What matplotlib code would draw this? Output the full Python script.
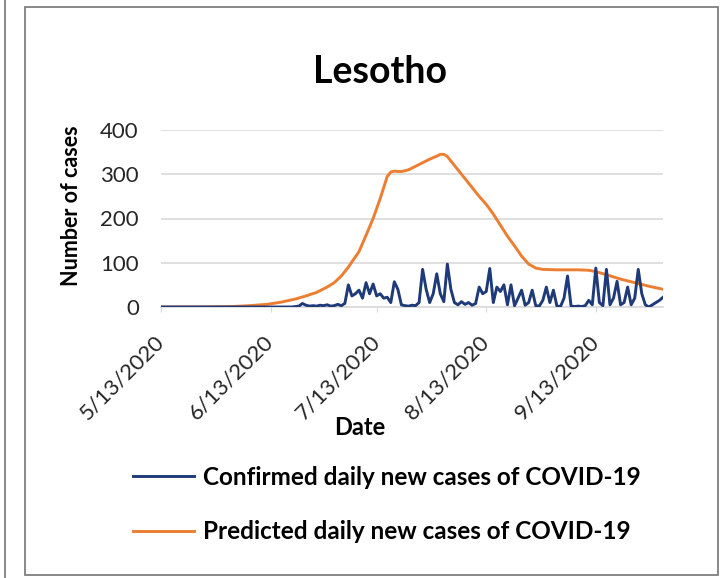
import datetime as dt
import matplotlib
matplotlib.use("Agg")
from matplotlib import pyplot as plt
import matplotlib.transforms as mtransforms
from matplotlib.patches import Rectangle
from matplotlib.lines import Line2D

plt.rcParams['font.family'] = ['Lato', 'DejaVu Sans']

start = dt.date(2020, 5, 13)

# confirmed daily new cases, one value per day from 5/13/2020
confirmed = [0]*36 + [0, 0, 1, 2,
    8, 4, 2, 3, 2, 4, 3, 5, 2, 3, 6, 3, 8,
    50, 25, 30, 38, 20, 55, 30, 52, 25, 30, 20, 22, 10, 57, 40,
    5, 3, 2, 4, 3, 10, 85, 40, 10, 30, 75, 30, 12, 97, 40, 10,
    5, 12, 6, 10, 4, 8, 45, 30, 35, 87, 10, 45, 35, 50, 5, 50,
    3, 20, 38, 4, 10, 38, 3, 2, 15, 45, 10, 38, 2, 1, 20, 70,
    2, 1, 2, 1, 3, 15, 5, 88, 10, 3, 85, 5, 20, 58, 5, 10,
    45, 5, 20, 85, 30, 5, 0, 5, 10, 15, 22]

# predicted daily new cases (day offset from 5/13/2020, value)
pred_day = [0, 10, 20, 25, 30, 34, 38, 41, 44, 47, 49, 51, 53, 54, 56, 58,
            60, 62, 63, 64, 65, 66, 68, 70, 72, 74, 76, 78, 79, 80, 81, 82,
            84, 86, 88, 90, 92, 94, 96, 98, 100, 102, 104, 106, 108, 112,
            118, 121, 123, 126, 130, 134, 138, 142]
pred_val = [0, 0, 1, 3, 6, 11, 18, 25, 33, 45, 55, 70, 90, 102, 125, 162,
            200, 245, 270, 295, 305, 307, 306, 310, 318, 326, 334, 341, 345,
            345, 340, 330, 310, 290, 270, 250, 232, 210, 185, 160, 138, 115,
            97, 88, 85, 84, 84, 83, 80, 73, 63, 55, 47, 40]

tick_labels = ['5/13/2020', '6/13/2020', '7/13/2020', '8/13/2020', '9/13/2020']

conf_dates = [start + dt.timedelta(days=i) for i in range(len(confirmed))]
pred_dates = [start + dt.timedelta(days=d) for d in pred_day]
tick_dates = [dt.datetime.strptime(t, '%m/%d/%Y').date() for t in tick_labels]

fig = plt.figure(figsize=(7.22, 5.78), dpi=100)

# panel frames
fig.patches.append(Rectangle((25/722, 3/578), 693/722, 568/578, transform=fig.transFigure,
                             fill=False, edgecolor='#7f7f7f', linewidth=1.3))
fig.add_artist(Line2D([5/722, 5/722], [0, 1], transform=fig.transFigure,
                      color='#7f7f7f', linewidth=1.3))

ax = fig.add_axes([161/722, 1 - 307/578, 502/722, 177/578])
ax.plot(conf_dates, confirmed, color='#1f3a78', linewidth=2.1, zorder=3,
        label='Confirmed daily new cases of COVID-19')
ax.plot(pred_dates, pred_val, color='#ed7d31', linewidth=2.1, zorder=2,
        label='Predicted daily new cases of COVID-19')

ax.set_ylim(0, 400)
ax.set_yticks([0, 100, 200, 300, 400])
ax.set_xlim(start - dt.timedelta(days=0.5), start + dt.timedelta(days=142.3))
ax.set_xticks(tick_dates)
ax.set_xticklabels(tick_labels, rotation=45, ha='right', va='center',
                   rotation_mode='anchor')
shift = mtransforms.ScaledTranslation(9/100, 0, fig.dpi_scale_trans)
for lab in ax.get_xticklabels():
    lab.set_transform(lab.get_transform() + shift)
ax.grid(axis='y', color='#d9d9d9', linewidth=1.2)
ax.set_axisbelow(True)
for s in ['top', 'right', 'left']:
    ax.spines[s].set_visible(False)
ax.spines['bottom'].set_color('#d9d9d9')
ax.spines['bottom'].set_linewidth(1.2)
ax.tick_params(axis='y', length=0, labelsize=16, pad=16, labelcolor='#262626')
ax.tick_params(axis='x', length=3.6, color='#d9d9d9', labelsize=16, pad=19,
               labelcolor='#262626')

ax.set_ylabel('Number of cases', fontsize=15.5, fontweight='bold')
ax.yaxis.set_label_coords(-0.157, 0.57)
ax.set_xlabel('Date', fontsize=17, fontweight='bold', va='top')
ax.xaxis.set_label_coords(0.396, -0.615)

fig.text(380/722, 1 - 72/578, 'Lesotho', ha='center', va='center',
         fontsize=27, fontweight='bold')

fig.legend(loc='upper left', bbox_to_anchor=(111/722, 1 - 444/578), frameon=False,
           handlelength=2.5, handletextpad=0.4, labelspacing=1.3,
           prop={'weight': 'bold', 'size': 17.5})

fig.savefig('out.png', dpi=100)
